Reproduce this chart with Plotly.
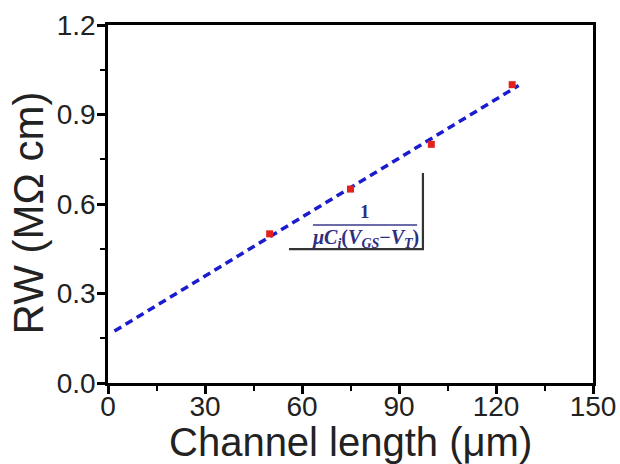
import plotly.graph_objects as go

# Data
channel_length = [50, 75, 100, 125]
rw = [0.50, 0.65, 0.80, 1.00]
fit_x = [2, 127]
fit_y = [0.174, 0.997]
x_ticks = [0, 30, 60, 90, 120, 150]
y_ticks = [0.0, 0.3, 0.6, 0.9, 1.2]
y_tick_labels = ["0.0", "0.3", "0.6", "0.9", "1.2"]
# slope triangle (data coordinates)
tri_x = [56.0, 97.4, 97.4]
tri_y = [0.449, 0.449, 0.704]

fig = go.Figure()
fig.add_trace(go.Scatter(x=fit_x, y=fit_y, mode="lines",
                         line=dict(color="#1c1ccf", width=3.5, dash="8px,5px"),
                         showlegend=False, hoverinfo="skip"))
fig.add_trace(go.Scatter(x=channel_length, y=rw, mode="markers",
                         marker=dict(color="#e3201b", size=7, symbol="square"),
                         showlegend=False))
fig.add_trace(go.Scatter(x=tri_x, y=tri_y, mode="lines",
                         line=dict(color="#333333", width=2.2),
                         showlegend=False, hoverinfo="skip"))

fig.add_shape(type="line", x0=63.4, x1=95.6, y0=0.530, y1=0.530,
              line=dict(color="#3a3a8a", width=1.5))
fig.add_annotation(x=79.5, y=0.574, text="<b>1</b>", showarrow=False,
                   font=dict(family="Liberation Serif", size=19, color="#2e2e80"))
fig.add_annotation(x=79.5, y=0.485,
                   text="<b><i>μC<sub>i</sub></i>(<i>V<sub>GS</sub></i>−<i>V<sub>T</sub></i>)</b>",
                   showarrow=False,
                   font=dict(family="Liberation Serif", size=20, color="#2e2e80"))

# axis titles as annotations for precise placement
fig.add_annotation(xref="paper", yref="paper", x=-0.162, y=0.475,
                   text="RW (MΩ cm)", textangle=-90, showarrow=False,
                   xanchor="center", yanchor="middle",
                   font=dict(family="Liberation Sans", size=42, color="#222222"))
fig.add_annotation(xref="paper", yref="paper", x=0.5, y=-0.165,
                   text="Channel length (μm)", showarrow=False,
                   xanchor="center", yanchor="middle",
                   font=dict(family="Liberation Sans", size=40, color="#222222"))

axis_common = dict(showgrid=False, zeroline=False, showline=True, linecolor="black",
                   linewidth=2.5, mirror=True, ticks="outside", ticklen=8, tickwidth=2.5,
                   tickcolor="black", automargin=False,
                   tickfont=dict(family="Liberation Sans", size=28, color="#222222"))

fig.update_xaxes(range=[0, 150], tickvals=x_ticks, ticklabelstandoff=-11,
                 minor=dict(ticks="outside", ticklen=5, tickwidth=2, dtick=15, tick0=0,
                            tickcolor="black"),
                 **axis_common)
fig.update_yaxes(range=[0, 1.2], tickvals=y_ticks, ticktext=y_tick_labels,
                 ticklabelstandoff=-4,
                 minor=dict(ticks="outside", ticklen=5, tickwidth=2, dtick=0.15, tick0=0,
                            tickcolor="black"),
                 **axis_common)

fig.update_layout(width=620, height=464, margin=dict(l=108, r=27, t=25, b=81),
                  plot_bgcolor="white", paper_bgcolor="white")

fig.write_html("out.html")
